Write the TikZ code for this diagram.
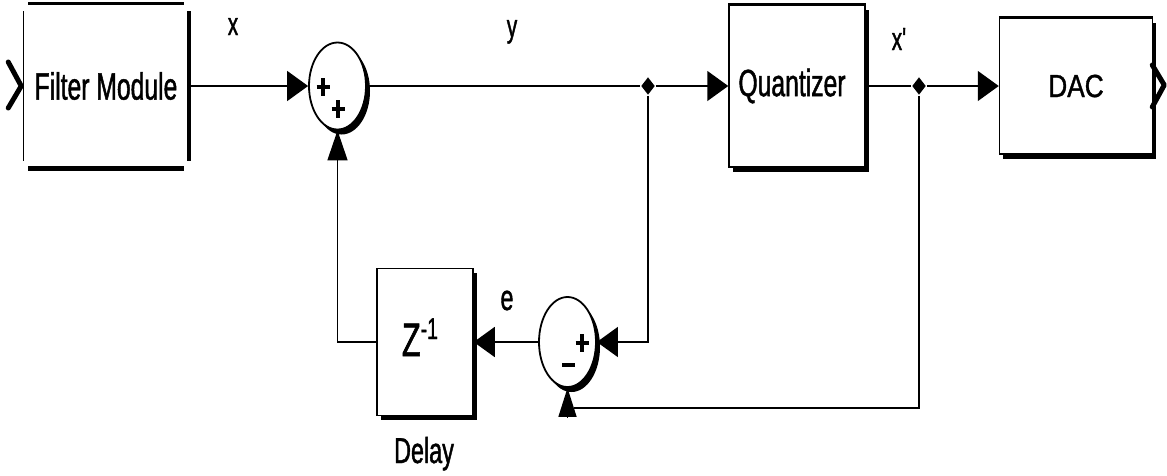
\documentclass[tikz,border=0pt]{standalone}
\usepackage{fontspec}
\setmainfont{Liberation Sans}[FakeStretch=0.65,FakeBold=1.2]
\newfontfamily\widefont{Liberation Sans}[FakeStretch=0.82,FakeBold=1.2]
\usetikzlibrary{arrows.meta,shapes.geometric,shadows,calc}
\newcommand\psign[1]{\draw[line width=3.5pt] ($#1+(-6.5,0)$) -- ($#1+(6.5,0)$) ($#1+(0,-9)$) -- ($#1+(0,9)$);}
\begin{document}
\begin{tikzpicture}[x=1pt,y=-1pt,line width=1.5pt,
  blk/.style={draw, fill=white, line width=1.5pt, inner sep=0pt,
    general shadow={fill=black, shadow xshift=3.5pt, shadow yshift=-4.5pt}},
  sumnode/.style={ellipse, draw, fill=white, line width=1.8pt, inner sep=0pt,
    minimum width=57pt, minimum height=87pt,
    general shadow={fill=black, shadow xshift=4pt, shadow yshift=-5pt}},
  jn/.style={diamond, fill=black, inner sep=0pt, minimum width=14pt, minimum height=18pt},
  arr/.style={-{Triangle[length=21pt,width=30pt]}},
  arrv/.style={-{Triangle[length=30pt,width=20pt]}},
  big/.style={font=\fontsize{38}{40}\selectfont},
  lbl/.style={font=\fontsize{32}{34}\selectfont, anchor=base, inner sep=0pt},
  port/.style={line width=5pt, line cap=round, line join=round},
  edge/.style={line width=3pt}
]
\useasboundingbox (0,0) rectangle (1167,475);

% blocks
\node[big, inner sep=0pt, minimum width=164pt, minimum height=164pt] (fm) at (106,86) {Filter Module};
\node[blk, big, minimum width=136pt, minimum height=162pt] (q) at (797,86) {Quantizer\hspace*{10pt}};
\node[blk, minimum width=153pt, minimum height=136pt, font=\widefont\fontsize{32}{34}\selectfont] (dac) at (1076,86) {DAC};
\node[blk, minimum width=96pt, minimum height=147pt] (z) at (425,342) {};
\node[anchor=base, inner sep=0pt, font=\fontsize{47}{50}\selectfont] (zt) at (420,356)
  {Z\raisebox{17pt}{\fontsize{30}{32}\selectfont -1}};
\draw[edge] (q.north west) -- (q.north east);
\draw[edge] (dac.north west) -- (dac.north east);

% filter module frame
\draw[line width=2.5pt] ($(fm.north west)+(5,0)$) -- ($(fm.north east)+(-5,0)$);
\draw[line width=5pt] ($(fm.south west)+(5,0)$) -- ($(fm.south east)+(-5,0)$);
\draw[line width=1.5pt] ($(fm.north west)+(0,8)$) -- ($(fm.south west)+(0,-8)$);
\draw[line width=3.5pt] ($(fm.north east)+(0,8)$) -- ($(fm.south east)+(0,-8)$);

% ports
\draw[port] ($(fm.west)+(-15,-24)$) -- ($(fm.west)+(-2,0)$) -- ($(fm.west)+(-15,22)$);
\draw[port] ($(dac.east)+(-1,-21)$) -- ($(dac.east)+(11,-1)$) -- ($(dac.east)+(-1,21)$);

% sums
\node[sumnode] (s1) at (337.5,86) {};
\psign{(323,87)}
\psign{(338,109)}
\node[sumnode, minimum height=90pt] (s2) at (567.5,342) {};
\psign{(582,343)}
\draw[line width=3.5pt] (562,365) -- (575,365);

% junctions
\node[jn] (j1) at (648,86) {};
\node[jn] (j2) at (919,86) {};
\coordinate (c1) at (574,408);
\coordinate (c2) at (567.5,417);

% connectors
\draw[arr] (fm) -- (s1);
\draw (s1) -- (j1);
\draw[arr] (j1) -- (q);
\draw (q) -- (j2);
\draw[arr] (j2) -- (dac);
\draw[arr] (j1) |- (s2);
\draw[arr] (s2) -- (z);
\draw[arrv] (z) -| (s1);
\draw (j2) |- (c1);
\draw[-{Triangle[length=29pt,width=18pt]}] (c2) -- (s2);

% labels
\node[lbl] (lx) at (233,35) {x};
\node[lbl] (ly) at (512,37) {y};
\node[lbl] (lxp) at (900,50) {x\textquotesingle};
\node[lbl, font=\fontsize{36}{38}\selectfont] (le) at (507,310) {e};
\node[lbl, font=\fontsize{36}{38}\selectfont] (ld) at (424,463) {Delay};
\end{tikzpicture}
\end{document}
